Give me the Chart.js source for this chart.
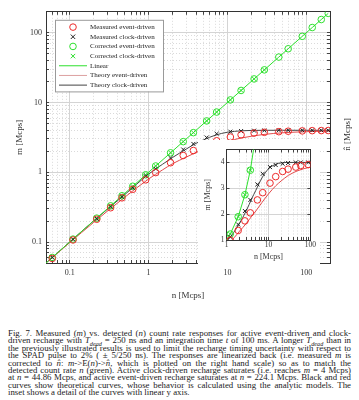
<!DOCTYPE html>
<html lang="en">
<head>
<meta charset="UTF-8">
<title>Measured vs detected count rate</title>
<script src="https://cdn.jsdelivr.net/npm/chart.js"></script>
<style>
  body { margin: 0; background: #fff; }
  #wrap { position: relative; width: 359px; height: 400px; overflow: hidden; font-family: "Liberation Serif", serif; }
  #main { position: absolute; left: 0; top: 0; }
  #inset { position: absolute; left: 198px; top: 140px; }
  #caption { position: absolute; left: 8px; top: 330px; width: 343px; font-size: 7.6px; line-height: 7.4px; color: #222; }
  #caption div { text-align: justify; text-align-last: justify; }
  #caption div.last { text-align-last: left; }
  #caption sub { font-size: 0.7em; line-height: 0; }
</style>
</head>
<body>
<div id="wrap">
  <canvas id="main" width="359" height="305"></canvas>
  <canvas id="inset" width="122" height="125"></canvas>
  <div id="caption">
    <div>Fig. 7. Measured (<i>m</i>) vs. detected (<i>n</i>) count rate responses for active event-driven and clock-</div>
    <div>driven recharge with <i>T<sub>dead</sub></i> = 250 ns and an integration time <i>t</i> of 100 ms. A longer <i>T<sub>dead</sub></i> than in</div>
    <div>the previously illustrated results is used to limit the recharge timing uncertainty with respect to</div>
    <div>the SPAD pulse to 2% ( ± 5/250 ns). The responses are linearized back (i.e. measured <i>m</i> is</div>
    <div>corrected to <i>n̂</i>: <i>m</i>-&gt;E(<i>n</i>)-&gt;<i>n̂</i>, which is plotted on the right hand scale) so as to match the</div>
    <div>detected count rate <i>n</i> (green). Active clock-driven recharge saturates (i.e. reaches <i>m</i> = 4 Mcps)</div>
    <div>at <i>n</i> = 44.86 Mcps, and active event-driven recharge saturates at <i>n</i> = 224.1 Mcps. Black and red</div>
    <div>curves show theoretical curves, whose behavior is calculated using the analytic models. The</div>
    <div class="last">inset shows a detail of the curves with linear y axis.</div>
  </div>
</div>

<script>
// detected rate n [Mcps] of each measurement
const nMeas = [0.06, 0.11, 0.22, 0.33, 0.46, 0.63, 0.92, 1.23, 1.9, 2.75, 3.7, 5.45, 7.3, 10.9, 14.9, 21.8, 29.4, 44.86, 59, 89, 119, 155, 190];
// measured m [Mcps]
const mEvent = [0.058, 0.107, 0.212, 0.31, 0.43, 0.57, 0.78, 0.99, 1.37, 1.74, 2.05, 2.55, 2.83, 3.2, 3.45, 3.65, 3.74, 3.82, 3.88, 3.92, 3.95, 3.96, 3.97];
const mClock = [0.06, 0.109, 0.215, 0.32, 0.445, 0.6, 0.88, 1.12, 1.6, 2.12, 2.55, 3.15, 3.56, 3.82, 3.9, 3.95, 3.98, 4.0, 4.0, 4.0, 4.0, 4.0, 4.0];
// corrected n-hat [Mcps]
const nHatEvent = [0.06, 0.11, 0.22, 0.33, 0.46, 0.63, 0.92, 1.23, 1.9, 2.75, 3.7, 5.45, 7.3, 10.9, 14.9, 21.8, 29.4, 44.86, 59, 89, 119, 155, 190];
const nHatClock = [0.06, 0.11, 0.22, 0.33, 0.46, 0.63, 0.92, 1.23, 1.9, 2.75, 3.7, 5.45, 7.3, 10.9, 14.9, 21.8, 29.4];
// green "linear" line, drawn through the corrected points
const nLinear = [0.05, 0.06, 0.11, 0.22, 0.33, 0.46, 0.63, 0.92, 1.23, 1.9, 2.75, 3.7, 5.45, 7.3, 10.9, 14.9, 21.8, 29.4, 44.86, 59, 89, 119, 155, 190];
// theory curves
const nTheory = [0.05, 0.1, 0.2, 0.5, 1, 1.5, 2, 3, 4, 5, 7, 10, 15, 20, 30, 50, 100, 200];
const mTheoryEvent = [0.05, 0.098, 0.19, 0.44, 0.8, 1.08, 1.32, 1.65, 1.92, 2.12, 2.45, 2.78, 3.1, 3.28, 3.5, 3.68, 3.82, 3.9];
const mTheoryClock = [0.05, 0.1, 0.2, 0.48, 0.94, 1.3, 1.62, 2.15, 2.6, 2.92, 3.4, 3.75, 3.93, 3.98, 4.0, 4.0, 4.0, 4.0];

const mainRange = [0.05, 200];
const insetX = [1, 100];
const insetY = [1, 4.5];
const insetYTicks = [1, 2, 3, 4];

const RED = '#ee2a2a', BLACK = '#222', GREEN = '#2ee02e';
const FONT = '"Liberation Serif", serif';
Chart.defaults.font.family = FONT;

// caption: one font size so the widest line fits the column, then justify
(function fitCaption() {
	const cap = document.getElementById('caption');
	const lines = Array.from(cap.children);
	cap.style.fontSize = '10px';
	let widest = 0;
	lines.forEach(d => {
		d.style.display = 'inline-block';
		d.style.whiteSpace = 'nowrap';
		widest = Math.max(widest, d.getBoundingClientRect().width);
		d.style.display = '';
		d.style.whiteSpace = '';
	});
	cap.style.fontSize = (10 * 336 / widest).toFixed(2) + 'px';
})();

function logTicks(min, max) {
	const out = [];
	for (let e = Math.floor(Math.log10(min)); e <= Math.ceil(Math.log10(max)); e++) {
		for (let k = 1; k <= 9; k++) {
			const v = +(k * Math.pow(10, e)).toPrecision(6);
			if (v >= min * 0.999999 && v <= max * 1.000001) out.push({ value: v, major: k === 1 });
		}
	}
	return out;
}

const pts = (xs, ys) => xs.map((x, i) => ({ x, y: ys[i] }));

function makeDatasets() {
	return [
		{ label: 'Measured event-driven', data: pts(nMeas, mEvent), showLine: false, pointStyle: 'circle',
			borderColor: RED, backgroundColor: 'rgba(0,0,0,0)', pointRadius: 3.3, pointBorderWidth: 1 },
		{ label: 'Measured clock-driven', data: pts(nMeas, mClock), showLine: false, pointStyle: 'crossRot',
			borderColor: BLACK, backgroundColor: BLACK, pointRadius: 2.8, pointBorderWidth: 1 },
		{ label: 'Corrected event-driven', data: pts(nMeas, nHatEvent), showLine: false, pointStyle: 'circle',
			borderColor: GREEN, backgroundColor: 'rgba(0,0,0,0)', pointRadius: 3.3, pointBorderWidth: 1 },
		{ label: 'Corrected clock-driven', data: pts(nMeas.slice(0, nHatClock.length), nHatClock), showLine: false, pointStyle: 'crossRot',
			borderColor: GREEN, backgroundColor: GREEN, pointRadius: 2.8, pointBorderWidth: 1 },
		{ label: 'Linear', data: pts(nLinear, nLinear), showLine: true, pointRadius: 0,
			borderColor: GREEN, borderWidth: 1 },
		{ label: 'Theory event-driven', data: pts(nTheory, mTheoryEvent), showLine: true, pointRadius: 0,
			borderColor: '#e24a4a', borderWidth: 1, cubicInterpolationMode: 'monotone' },
		{ label: 'Theory clock-driven', data: pts(nTheory, mTheoryClock), showLine: true, pointRadius: 0,
			borderColor: '#444', borderWidth: 1, cubicInterpolationMode: 'monotone' },
	];
}

const gridStyle = {
	color: c => (c.tick && c.tick.major) ? '#d4d4d4' : '#dadada',
	tickLength: -3,
	tickColor: '#444',
};
const borderStyle = {
	color: '#333',
	dash: c => (c.tick && !c.tick.major) ? [1, 2] : [],
};
const fmt = v => v >= 1 ? String(Math.round(v)) : String(+v.toFixed(3));
const decadeLabel = v => {
	const l = Math.log10(v);
	return Math.abs(l - Math.round(l)) < 1e-6 ? fmt(v) : '';
};

function frameAxis(type, position, range, build, fit) {
	return {
		type, position, min: range[0], max: range[1],
		afterBuildTicks: build, afterFit: fit,
		grid: { drawOnChartArea: false, tickLength: -3, tickColor: '#444' },
		border: { color: '#333' },
		ticks: { display: false },
	};
}

// legend box drawn inside the plot, top left
const legendBox = {
	id: 'legendBox',
	afterDatasetsDraw(chart) {
		const { ctx, chartArea } = chart;
		const x0 = chartArea.left + 9, y0 = chartArea.top + 8;
		const w = 108, rowH = 9.67, h = 71.6;
		ctx.save();
		ctx.fillStyle = '#fff';
		ctx.fillRect(x0, y0, w, h);
		ctx.strokeStyle = '#9a9a9a';
		ctx.lineWidth = 1;
		ctx.strokeRect(x0 + 0.5, y0 + 0.5, w, h);
		ctx.font = '7px ' + FONT;
		ctx.textBaseline = 'middle';
		chart.data.datasets.forEach((ds, i) => {
			const cy = y0 + 7.3 + i * rowH, cx = x0 + 18;
			ctx.strokeStyle = ds.label === 'Theory event-driven' ? '#dca0a0' : ds.borderColor;
			ctx.lineWidth = 1;
			ctx.beginPath();
			if (ds.showLine) {
				ctx.moveTo(cx - 14, cy); ctx.lineTo(cx + 14, cy);
			} else if (ds.pointStyle === 'circle') {
				ctx.arc(cx, cy, 3.3, 0, Math.PI * 2);
			} else {
				const r = 2.2;
				ctx.moveTo(cx - r, cy - r); ctx.lineTo(cx + r, cy + r);
				ctx.moveTo(cx + r, cy - r); ctx.lineTo(cx - r, cy + r);
			}
			ctx.stroke();
			ctx.fillStyle = '#222';
			ctx.fillText(ds.label, x0 + 35, cy);
		});
		ctx.restore();
	}
};

// right hand axis label, reads bottom to top like the left one
const rightTitle = {
	id: 'rightTitle',
	afterDraw(chart) {
		const { ctx, chartArea } = chart;
		ctx.save();
		ctx.translate(348, (chartArea.top + chartArea.bottom) / 2 - 3);
		ctx.rotate(-Math.PI / 2);
		ctx.font = '9px ' + FONT;
		ctx.fillStyle = '#333';
		ctx.textAlign = 'center';
		ctx.textBaseline = 'middle';
		ctx.fillText('n\u0302 [Mcps]', 0, 0);
		ctx.restore();
	}
};

const whiteBg = {
	id: 'whiteBg',
	beforeDraw(chart) {
		const ctx = chart.ctx;
		ctx.save();
		ctx.fillStyle = '#fff';
		ctx.fillRect(0, 0, chart.width, chart.height);
		ctx.restore();
	}
};

const mainLogTicks = s => { s.ticks = logTicks(mainRange[0], mainRange[1]); };

new Chart(document.getElementById('main'), {
	type: 'scatter',
	data: { datasets: makeDatasets() },
	options: {
		responsive: false,
		animation: false,
		events: [],
		layout: { padding: { left: 10, top: 5, right: 0, bottom: 0 } },
		plugins: { legend: { display: false }, tooltip: { enabled: false } },
		scales: {
			x: {
				type: 'logarithmic', position: 'bottom', min: mainRange[0], max: mainRange[1],
				afterBuildTicks: mainLogTicks,
				afterFit: s => { s.height = 42; },
				grid: gridStyle, border: borderStyle,
				ticks: { autoSkip: false, maxRotation: 0, padding: 8, color: '#333', font: { size: 8 }, callback: decadeLabel },
				title: { display: true, text: 'n [Mcps]', color: '#333', font: { size: 9 }, padding: { top: 0, bottom: 4 } },
			},
			x2: frameAxis('logarithmic', 'top', mainRange, mainLogTicks, s => { s.height = 0; }),
			y: {
				type: 'logarithmic', position: 'left', min: mainRange[0], max: mainRange[1],
				afterBuildTicks: mainLogTicks,
				afterFit: s => { s.width = 36; },
				grid: gridStyle, border: borderStyle,
				ticks: { autoSkip: false, padding: 7, color: '#333', font: { size: 8 }, callback: decadeLabel },
				title: { display: true, text: 'm [Mcps]', color: '#333', font: { size: 9 }, padding: { top: 4, bottom: 0 } },
			},
			y2: frameAxis('logarithmic', 'right', mainRange, mainLogTicks, s => { s.width = 29; }),
		},
	},
	plugins: [legendBox, rightTitle],
});

const insetLogTicks = s => { s.ticks = logTicks(insetX[0], insetX[1]); };
const insetLinTicks = s => { s.ticks = insetYTicks.map(v => ({ value: v, major: true })); };

new Chart(document.getElementById('inset'), {
	type: 'scatter',
	data: { datasets: makeDatasets() },
	options: {
		responsive: false,
		animation: false,
		events: [],
		layout: { padding: { left: 0, top: 6, right: 6.5, bottom: 0 } },
		plugins: { legend: { display: false }, tooltip: { enabled: false } },
		scales: {
			x: {
				type: 'logarithmic', position: 'bottom', min: insetX[0], max: insetX[1],
				afterBuildTicks: insetLogTicks,
				afterFit: s => { s.height = 25; },
				grid: gridStyle, border: borderStyle,
				ticks: { autoSkip: false, maxRotation: 0, padding: 4, color: '#333', font: { size: 7.5 }, callback: decadeLabel },
				title: { display: true, text: 'n [Mcps]', color: '#333', font: { size: 8 }, padding: { top: 0, bottom: 3 } },
			},
			x2: frameAxis('logarithmic', 'top', insetX, insetLogTicks, s => { s.height = 0; }),
			y: {
				type: 'linear', position: 'left', min: insetY[0], max: insetY[1],
				afterBuildTicks: insetLinTicks,
				afterFit: s => { s.width = 28.5; },
				grid: gridStyle, border: { color: '#333' },
				ticks: { padding: 5, color: '#333', font: { size: 7.5 } },
				title: { display: true, text: 'm [Mcps]', color: '#333', font: { size: 8 }, padding: { top: 5, bottom: 0 } },
			},
			y2: frameAxis('linear', 'right', insetY, insetLinTicks, s => { s.width = 0; }),
		},
	},
	plugins: [whiteBg],
});
</script>
</body>
</html>
